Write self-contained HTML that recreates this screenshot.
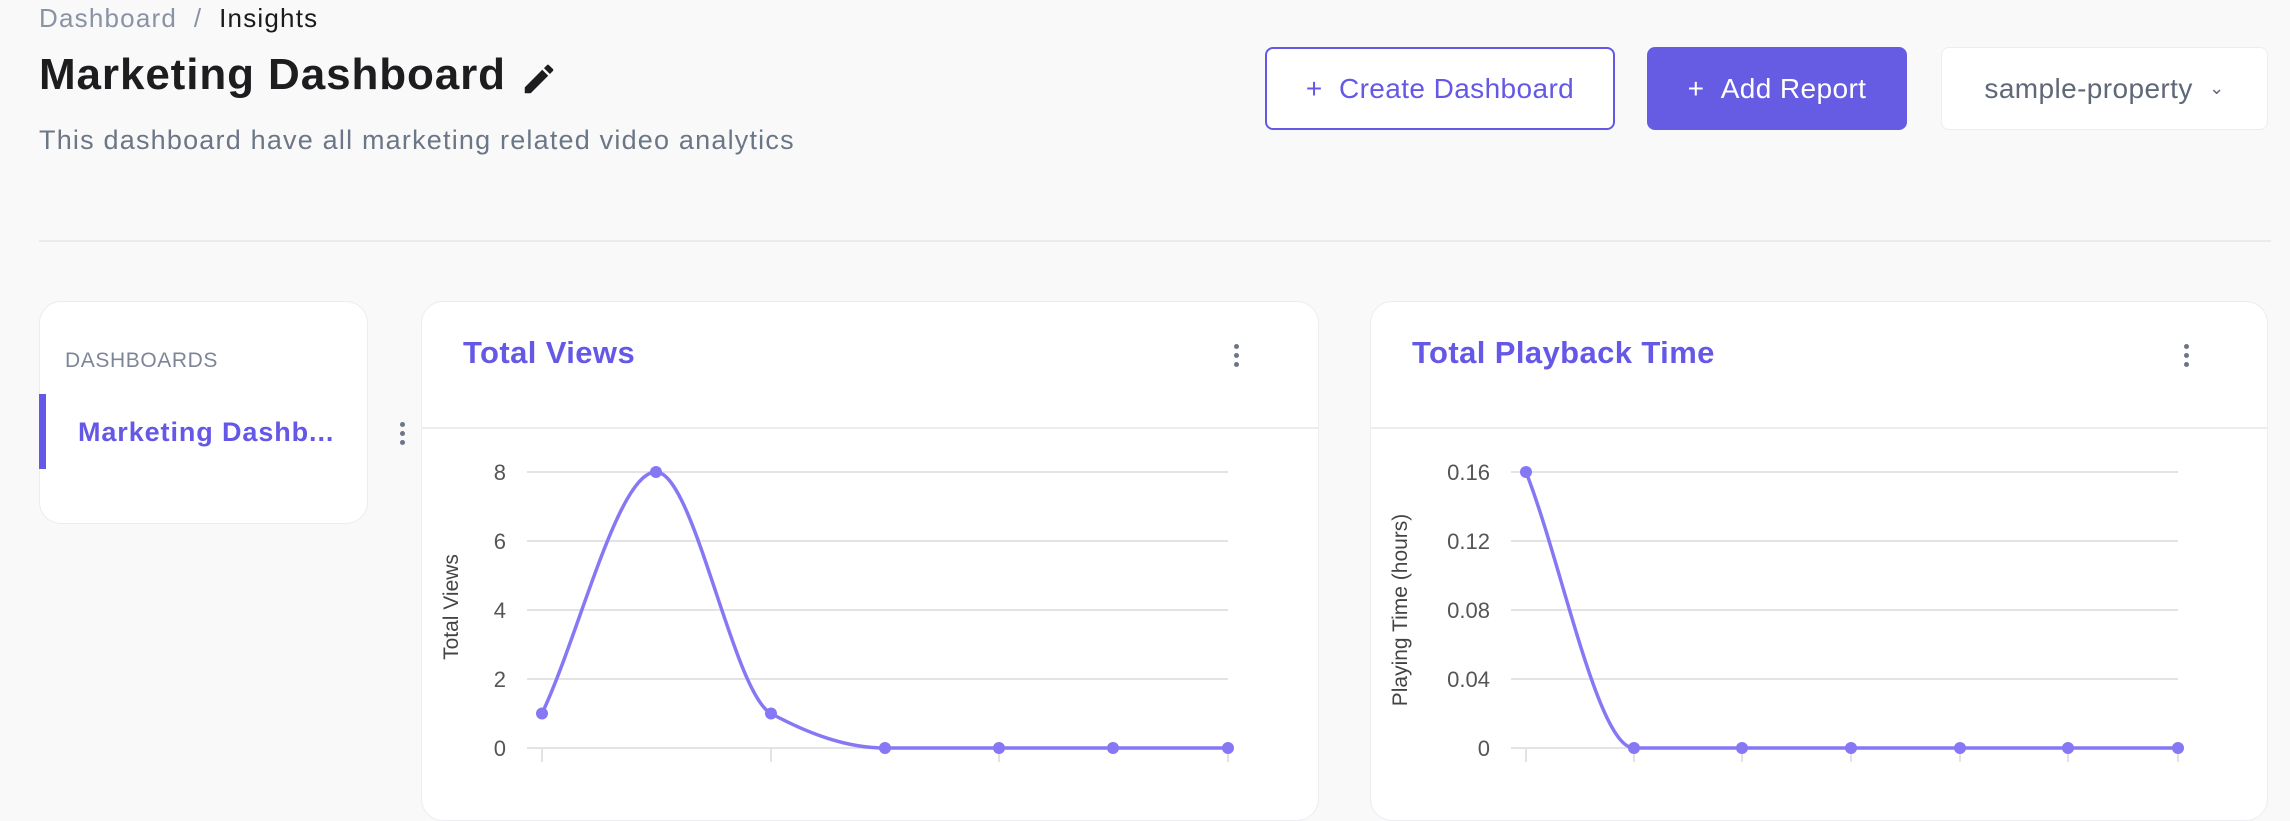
<!DOCTYPE html>
<html><head><meta charset="utf-8"><style>
*{margin:0;padding:0;box-sizing:border-box}
body{width:2290px;height:778px;background:#f9f9fa;font-family:"Liberation Sans",sans-serif;position:relative;overflow:hidden}
.a{position:absolute;white-space:nowrap}
.card{position:absolute;background:#fff;border:1.5px solid #ececf1;border-radius:22px}
.btn{position:absolute;border-radius:8px;display:flex;align-items:center;justify-content:center;font-size:28px;letter-spacing:0.4px}
.keb{position:absolute;width:5px}
.keb i{display:block;width:5px;height:5px;border-radius:50%;background:#6b7686;margin-bottom:4px}
</style></head><body>
<div class="a" style="left:39px;top:3px;font-size:26px;letter-spacing:1.2px;color:#8a93a3">Dashboard&nbsp;&nbsp;/&nbsp;&nbsp;<span style="color:#1a1a1a">Insights</span></div>
<div class="a" style="left:39px;top:50px;font-size:44px;letter-spacing:0.9px;font-weight:bold;color:#1d1d1f">Marketing Dashboard</div>
<svg class="a" style="left:520px;top:60px" width="38" height="38" viewBox="0 0 24 24"><path d="M3 17.25V21h3.75L17.81 9.94l-3.75-3.75L3 17.25zM20.71 7.04a1 1 0 0 0 0-1.41l-2.34-2.34a1 1 0 0 0-1.41 0l-1.83 1.83 3.75 3.75 1.83-1.83z" fill="#1d1d1f"/></svg>
<div class="a" style="left:39px;top:125px;font-size:27px;letter-spacing:1.2px;color:#6b7686">This dashboard have all marketing related video analytics</div>
<div class="btn" style="left:1265px;top:47px;width:350px;height:83px;border:2px solid #6558e6;color:#6558e6;background:#fff">+&nbsp;&nbsp;Create Dashboard</div>
<div class="btn" style="left:1647px;top:47px;width:260px;height:83px;background:#665ce3;color:#fff">+&nbsp;&nbsp;Add Report</div>
<div class="btn" style="left:1941px;top:47px;width:327px;height:83px;background:#fff;border:1.5px solid #ececf1;color:#5f6878">sample-property&nbsp;&nbsp;<span style="font-size:18px">&#8964;</span></div>
<div class="a" style="left:39px;top:240px;width:2232px;height:2px;background:#ebebef"></div>

<div class="card" style="left:39px;top:301px;width:329px;height:223px"></div>
<div class="a" style="left:65px;top:349px;font-size:21px;letter-spacing:0.6px;color:#7d8596">DASHBOARDS</div>
<div class="a" style="left:39px;top:394px;width:7px;height:75px;background:#6558e6"></div>
<div class="a" style="left:78px;top:417px;font-size:27px;letter-spacing:0.9px;font-weight:bold;color:#6558e6">Marketing Dashb...</div>
<div class="keb" style="left:400px;top:422px"><i></i><i></i><i></i></div>

<div class="card" style="left:421px;top:301px;width:898px;height:520px"></div>
<div class="a" style="left:463px;top:335px;font-size:31px;letter-spacing:0.4px;font-weight:bold;color:#6558e6">Total Views</div>
<div class="keb" style="left:1234px;top:344px"><i></i><i></i><i></i></div>
<div class="a" style="left:422px;top:427px;width:896px;height:2px;background:#ececf1"></div>

<div class="card" style="left:1370px;top:301px;width:898px;height:520px"></div>
<div class="a" style="left:1412px;top:335px;font-size:31px;letter-spacing:0.4px;font-weight:bold;color:#6558e6">Total Playback Time</div>
<div class="keb" style="left:2184px;top:344px"><i></i><i></i><i></i></div>
<div class="a" style="left:1371px;top:427px;width:896px;height:2px;background:#ececf1"></div>

<svg class="a" style="left:0;top:0" width="2290" height="778" font-family="Liberation Sans, sans-serif">
<g stroke="#e3e3e6" stroke-width="2">
<line x1="527" x2="1228" y1="472" y2="472"/><line x1="527" x2="1228" y1="541" y2="541"/><line x1="527" x2="1228" y1="610" y2="610"/><line x1="527" x2="1228" y1="679" y2="679"/><line x1="527" x2="1228" y1="748" y2="748"/>
<line x1="542" x2="542" y1="748" y2="762"/><line x1="771" x2="771" y1="748" y2="762"/><line x1="999" x2="999" y1="748" y2="762"/><line x1="1228" x2="1228" y1="748" y2="762"/>
<line x1="1511" x2="2178" y1="472" y2="472"/><line x1="1511" x2="2178" y1="541" y2="541"/><line x1="1511" x2="2178" y1="610" y2="610"/><line x1="1511" x2="2178" y1="679" y2="679"/><line x1="1511" x2="2178" y1="748" y2="748"/>
<line x1="1526" x2="1526" y1="748" y2="762"/><line x1="1634" x2="1634" y1="748" y2="762"/><line x1="1742" x2="1742" y1="748" y2="762"/><line x1="1851" x2="1851" y1="748" y2="762"/><line x1="1960" x2="1960" y1="748" y2="762"/><line x1="2068" x2="2068" y1="748" y2="762"/><line x1="2178" x2="2178" y1="748" y2="762"/>
</g>
<g fill="#555" font-size="22" text-anchor="end">
<text x="506" y="480">8</text><text x="506" y="549">6</text><text x="506" y="618">4</text><text x="506" y="687">2</text><text x="506" y="756">0</text>
<text x="1490" y="480">0.16</text><text x="1490" y="549">0.12</text><text x="1490" y="618">0.08</text><text x="1490" y="687">0.04</text><text x="1490" y="756">0</text>
</g>
<text transform="translate(458,607) rotate(-90)" text-anchor="middle" font-size="21" fill="#444">Total Views</text>
<text transform="translate(1407,610) rotate(-90)" text-anchor="middle" font-size="21" fill="#444">Playing Time (hours)</text>
<g fill="none" stroke="#8677f4" stroke-width="3.5">
<path d="M542 713.5 C580 633 618 472 656 472 C694 472 733 693 771 713.5 C809 734 847 748 885 748 L1228 748"/>
<path d="M1526 472 C1562 564 1598 748 1634 748 L2178 748"/>
</g>
<g fill="#8677f4">
<circle cx="542" cy="713.5" r="6"/><circle cx="656" cy="472" r="6"/><circle cx="771" cy="713.5" r="6"/><circle cx="885" cy="748" r="6"/><circle cx="999" cy="748" r="6"/><circle cx="1113" cy="748" r="6"/><circle cx="1228" cy="748" r="6"/>
<circle cx="1526" cy="472" r="6"/><circle cx="1634" cy="748" r="6"/><circle cx="1742" cy="748" r="6"/><circle cx="1851" cy="748" r="6"/><circle cx="1960" cy="748" r="6"/><circle cx="2068" cy="748" r="6"/><circle cx="2178" cy="748" r="6"/>
</g>
</svg>
</body></html>
